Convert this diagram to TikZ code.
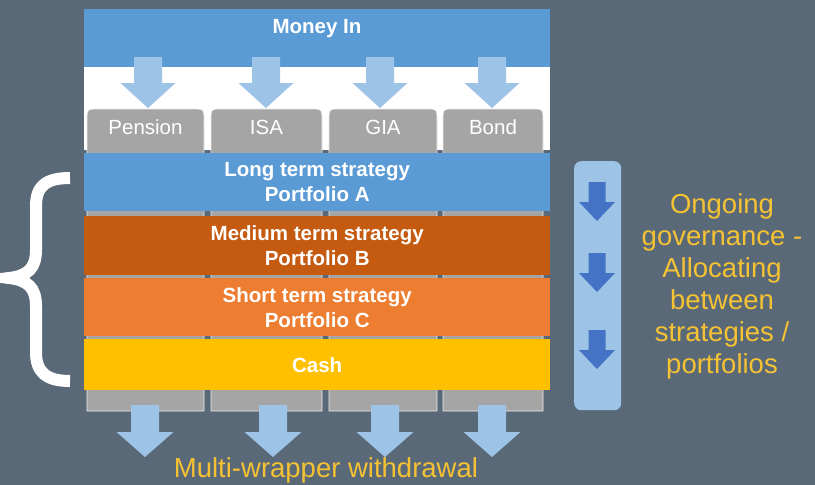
\documentclass[tikz,border=0pt]{standalone}
\usepackage{fontspec}
\setmainfont{Liberation Sans}
\usepackage{tikz}
\usetikzlibrary{
  positioning,
  calc
}
\definecolor{mwBg}{HTML}{596978}
\definecolor{mwBlue}{HTML}{5B9BD5}
\definecolor{mwRust}{HTML}{C55A11}
\definecolor{mwOrange}{HTML}{ED7D31}
\definecolor{mwGold}{HTML}{FFC000}
\definecolor{mwGrey}{HTML}{A5A5A5}
\definecolor{mwLight}{HTML}{9DC3E6}
\definecolor{mwDeep}{HTML}{4472C4}
\definecolor{mwText}{HTML}{F5C233}
\tikzset{
  band/.style={
    minimum width=466pt, inner sep=0pt, anchor=north west, text=white,
    align=center, font=\fontsize{20.5}{25}\selectfont\bfseries
  },
  tabcol/.style={fill=mwGrey, draw=white!80!mwGrey, line width=0.6pt},
  tablabel/.style={text=white, inner sep=0pt, anchor=base, font=\fontsize{20.5}{24}\selectfont},
  note/.style={text=mwText, inner sep=0pt, align=center, font=\fontsize{27.5}{32}\selectfont},
  govbar/.style={fill=mwLight, rounded corners=7pt, inner sep=0pt, anchor=north west},
  pics/blockarrow/.style n args={5}{code={
    \fill[#5] (-#1,0) -- (#1,0) -- (#1,#4) -- (#2,#4) -- (0,#3) -- (-#2,#4) -- (-#1,#4) -- cycle;
  }}
}

\begin{document}
\begin{tikzpicture}[x=1pt, y=-1pt]
  \fill[mwBg] (0,0) rectangle (815,485);
  \useasboundingbox (0,0) rectangle (815,485);

  % money in
  \fill[white] (84,67) rectangle (550,150);
  \node[band, fill=mwBlue, minimum height=58pt] (money) at (84,9) {};
  \node[band, anchor=base, font=\fontsize{20.5}{24}\selectfont\bfseries] (moneylabel) at (317,33) {Money In};

  % wrappers
  \foreach \l/\r/\name/\txt in {87/204/pension/Pension, 211/322/isa/ISA, 329/437/gia/GIA, 443/543/bond/Bond} {
    \draw[tabcol] (\l,411) -- (\l,121) .. controls (\l,109) .. (\l+12,109) -- (\r-12,109)
      .. controls (\r,109) .. (\r,121) -- (\r,411) -- cycle;
    \node[tablabel] (\name) at ({(\l+\r)/2},134) {\txt};
  }
  \foreach \x in {148,266,380,492}
    \pic at (\x,57) {blockarrow={14}{27.5}{51}{26}{mwLight}};

  % strategies
  \node[band, fill=mwBlue, minimum height=58pt] (longterm) at (84,153) {Long term strategy\\Portfolio A};
  \node[band, fill=mwRust, minimum height=59pt] (medterm) at (84,216) {Medium term strategy\\Portfolio B};
  \node[band, fill=mwOrange, minimum height=58pt] (shortterm) at (84,278) {Short term strategy\\Portfolio C};
  \node[band, fill=mwGold, minimum height=51pt] (cash) at (84,339) {Cash};

  % brace
  \draw[white, line width=12pt]
    (70,178) .. controls (46,178) and (36,186) .. (36,206) -- (36,250)
    .. controls (36,268) and (28,276) .. (9,278)
    .. controls (28,280) and (36,288) .. (36,306) -- (36,352)
    .. controls (36,372) and (46,381) .. (70,381);

  % withdrawal
  \foreach \x in {145,273,385,492}
    \pic at (\x,405) {blockarrow={14}{28.5}{52}{27}{mwLight}};
  \node[note, anchor=base] (withdraw) at (326,477) {Multi-wrapper withdrawal};

  % governance
  \node[govbar, minimum width=47pt, minimum height=249pt] (bar) at (574,161) {};
  \foreach \y in {182,253,330}
    \pic at (597,\y) {blockarrow={8.5}{18}{39}{20}{mwDeep}};
  \node[note, anchor=north] (govnote) at (722,193) {Ongoing\\governance -\\Allocating\\between\\strategies /\\portfolios};
\end{tikzpicture}
\end{document}
